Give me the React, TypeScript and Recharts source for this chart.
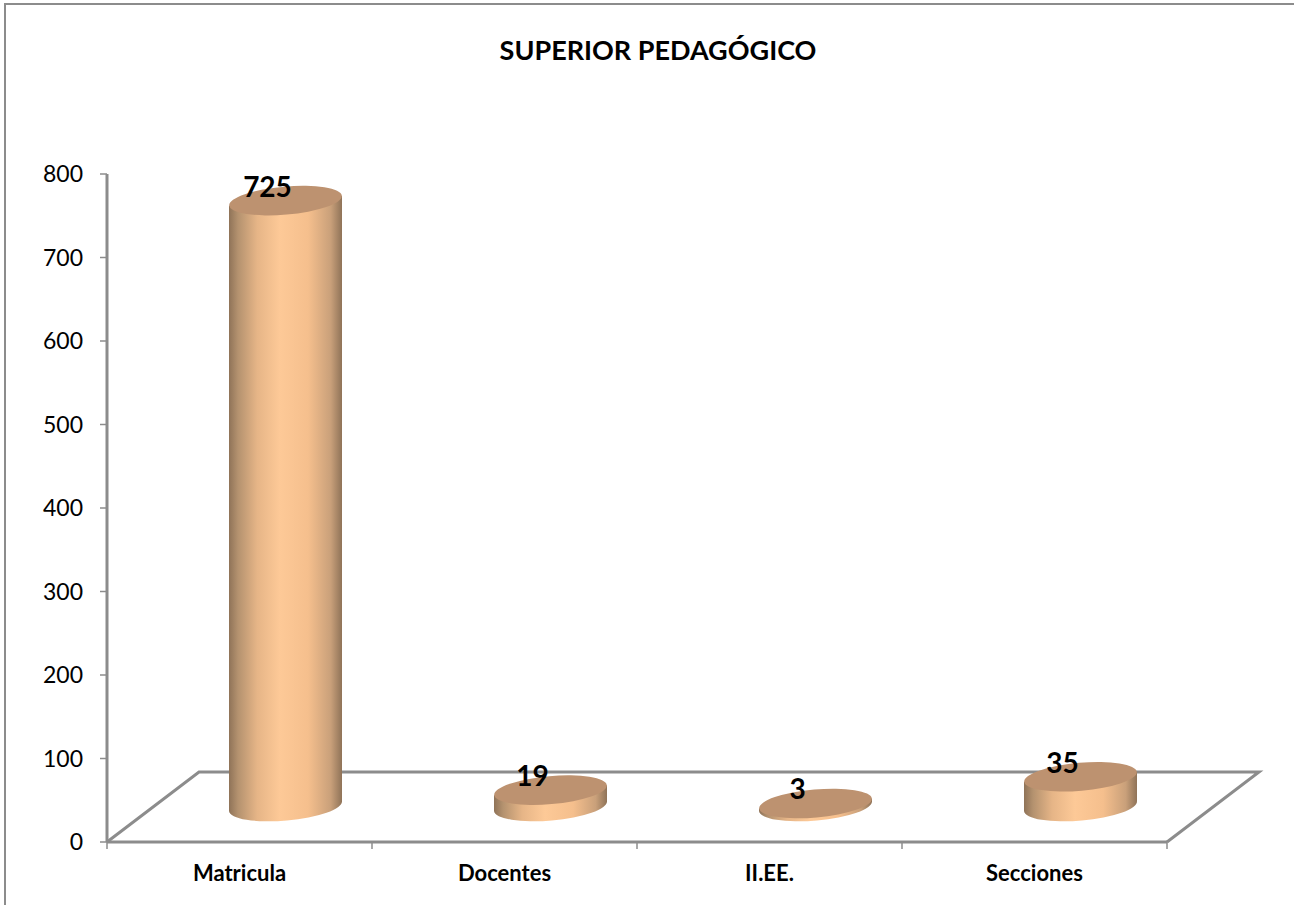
import { BarChart, Bar, XAxis, YAxis, LabelList, usePlotArea } from 'recharts';

const categories = ['Matricula', 'Docentes', 'II.EE.', 'Secciones'];
const values = [725, 19, 3, 35];
const yTicks = [0, 100, 200, 300, 400, 500, 600, 700, 800];

const FONT = 'Lato, "Open Sans", sans-serif';
const AXIS_COLOR = '#8c8c8c';
// the fake 3d floor: how far the back edge sits from the front edge
const DEPTH_X = 92;
const DEPTH_Y = 70;
const LIFT = 36;

const data = categories.map((name, i) => ({ name, value: values[i] }));

function Cylinder(props: any) {
  const { x, y, width, height } = props;
  const cx = x + width / 2 + DEPTH_X / 2;
  const r = width / 2;
  const top = y - LIFT;
  const base = y + height - LIFT;
  const tilt = 5;
  return (
    <g>
      <path
        d={`M${cx - r},${top + tilt} L${cx - r},${base + tilt} A${r} 14.5 -5 0 0 ${cx + r},${base - tilt} L${cx + r},${top - tilt} Z`}
        fill="url(#cylinderGrad)"
      />
      <ellipse cx={cx} cy={top} rx={r} ry={14} fill="#bd9270" transform={`rotate(-5 ${cx} ${top})`} />
    </g>
  );
}

function ValueLabel(props: any) {
  const { x, y, width, value } = props;
  return (
    <text
      x={x + width / 2 + DEPTH_X / 2 - 18}
      y={y - LIFT - 15}
      textAnchor="middle"
      dominantBaseline="central"
      fontFamily={FONT}
      fontWeight={700}
      fontSize={28}
      fill="#000"
    >
      {value}
    </text>
  );
}

function CategoryTick(props: any) {
  const { x, y, index, payload, width } = props;
  const band = width / categories.length;
  const last = index === categories.length - 1;
  return (
    <g>
      <line x1={x - band / 2} x2={x - band / 2} y1={y - 8} y2={y - 1} stroke={AXIS_COLOR} strokeWidth={1.5} />
      {last && <line x1={x + band / 2} x2={x + band / 2} y1={y - 8} y2={y - 1} stroke={AXIS_COLOR} strokeWidth={1.5} />}
      <text x={x} y={y + 22} textAnchor="middle" dominantBaseline="central" fontFamily={FONT} fontWeight={700} fontSize={22} fill="#000">
        {payload.value}
      </text>
    </g>
  );
}

function Floor() {
  const plot = usePlotArea();
  if (!plot) return null;
  const left = plot.x;
  const right = plot.x + plot.width;
  const front = plot.y + plot.height;
  const back = front - DEPTH_Y;
  return (
    <polyline
      points={`${left},${front} ${left + DEPTH_X},${back} ${right + DEPTH_X},${back} ${right},${front}`}
      fill="none"
      stroke={AXIS_COLOR}
      strokeWidth={3}
    />
  );
}

export default function App() {
  return (
    <div style={{ position: 'absolute', left: 0, top: 0, width: 1294, height: 905, background: '#fff' }}>
      <div style={{ position: 'absolute', left: 4, top: 3, width: 1290, height: 902, borderLeft: '2px solid #8c8c8c', borderTop: '2px solid #8c8c8c', boxSizing: 'border-box' }} />
      <div style={{ position: 'absolute', left: 0, top: 35, width: 1316, textAlign: 'center', fontFamily: FONT, fontWeight: 700, fontSize: 27, lineHeight: '30px', color: '#000' }}>
        SUPERIOR PEDAGÓGICO
      </div>
      <div style={{ position: 'absolute', left: 0, top: 0 }}>
        <BarChart width={1294} height={905} data={data} margin={{ top: 174, right: 127, bottom: 0, left: 47 }} barCategoryGap={76}>
          <defs>
            <linearGradient id="cylinderGrad" x1="0" y1="0" x2="1" y2="0">
              <stop offset="0%" stopColor="#8f7358" />
              <stop offset="8%" stopColor="#b4926f" />
              <stop offset="25%" stopColor="#e6b587" />
              <stop offset="45%" stopColor="#fdc997" />
              <stop offset="70%" stopColor="#f5bf8d" />
              <stop offset="90%" stopColor="#c9a07a" />
              <stop offset="100%" stopColor="#8f7358" />
            </linearGradient>
          </defs>
          <Floor />
          <XAxis
            dataKey="name"
            height={63}
            interval={0}
            tick={CategoryTick}
            tickLine={false}
            axisLine={{ stroke: AXIS_COLOR, strokeWidth: 3 }}
          />
          <YAxis
            width={60}
            domain={[0, 800]}
            ticks={yTicks}
            interval={0}
            tickSize={7}
            tickMargin={17}
            axisLine={{ stroke: AXIS_COLOR, strokeWidth: 3 }}
            tickLine={{ stroke: AXIS_COLOR, strokeWidth: 1.5 }}
            tick={{ fontFamily: FONT, fontSize: 23, fill: '#000' }}
          />
          <Bar dataKey="value" shape={Cylinder} isAnimationActive={false}>
            <LabelList dataKey="value" content={ValueLabel} />
          </Bar>
        </BarChart>
      </div>
    </div>
  );
}
